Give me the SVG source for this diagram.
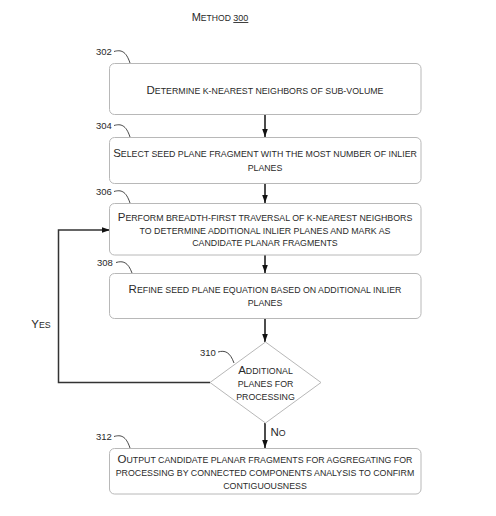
<svg xmlns="http://www.w3.org/2000/svg" width="496" height="516" viewBox="0 0 496 516">
<style>
.box{fill:#fff;stroke:#b8b8b8;stroke-width:1}
.t{font-family:"Liberation Sans",Arial,sans-serif;font-size:8.8px;fill:#2a2a2a;text-anchor:middle}
.b{font-size:11.5px}
.n{font-family:"Liberation Sans",Arial,sans-serif;font-size:9.5px;fill:#2a2a2a}
.lead{fill:none;stroke:#333;stroke-width:0.9}
.c{fill:none;stroke:#111;stroke-width:1.5}
.loop{fill:none;stroke:#333;stroke-width:1.5}
</style>
<defs>
<marker id="ah2" viewBox="0 0 10 7" refX="10" refY="3.5" markerWidth="8" markerHeight="5.6" orient="auto" markerUnits="userSpaceOnUse">
<path d="M0,0 L10,3.5 L0,7 z" fill="#111"/>
</marker>
</defs>
<rect width="496" height="516" fill="#fff"/>
<text class="t" x="220" y="21" style="font-size:8.6px"><tspan style="font-size:11px">M</tspan>ETHOD <tspan style="font-size:9px" text-decoration="underline">300</tspan></text>

<g id="connectors">
<path class="c" d="M265,115 V137" marker-end="url(#ah2)"/>
<path class="c" d="M265,183 V203" marker-end="url(#ah2)"/>
<path class="c" d="M265,255 V273" marker-end="url(#ah2)"/>
<path class="c" d="M265,318 V342" marker-end="url(#ah2)"/>
<path class="c" d="M265,423 V448" marker-end="url(#ah2)"/>
<path class="loop" d="M210,382.5 H58.5 V230 H110" marker-end="url(#ah2)"/>
<text class="t" x="41" y="328"><tspan class="b">Y</tspan>ES</text>
<text class="t" x="278" y="436"><tspan class="b">N</tspan>O</text>
</g>

<g id="n302">
<rect class="box" x="109.5" y="63.5" width="311.5" height="51" rx="5"/>
<text class="t" x="265" y="94"><tspan class="b">D</tspan>ETERMINE K-NEAREST NEIGHBORS OF SUB-VOLUME</text>
<text class="n" x="96" y="55">302</text>
<path class="lead" d="M114,51.5 C121,49.5 126,51 130,63"/>
</g>

<g id="n304">
<rect class="box" x="109.5" y="137.5" width="311.5" height="46" rx="5"/>
<text class="t" x="265" y="157"><tspan class="b">S</tspan>ELECT SEED PLANE FRAGMENT WITH THE MOST NUMBER OF INLIER</text>
<text class="t" x="265" y="170.5">PLANES</text>
<text class="n" x="96" y="129">304</text>
<path class="lead" d="M114,125.5 C121,123.5 126,125 130,137"/>
</g>

<g id="n306">
<rect class="box" x="109.5" y="203.5" width="311.5" height="51.5" rx="5"/>
<text class="t" x="265" y="221"><tspan class="b">P</tspan>ERFORM BREADTH-FIRST TRAVERSAL OF K-NEAREST NEIGHBORS</text>
<text class="t" x="265" y="233.5">TO DETERMINE ADDITIONAL INLIER PLANES AND MARK AS</text>
<text class="t" x="265" y="246">CANDIDATE PLANAR FRAGMENTS</text>
<text class="n" x="96" y="195">306</text>
<path class="lead" d="M114,191.5 C121,189.5 126,191 130,203"/>
</g>

<g id="n308">
<rect class="box" x="109.5" y="273.5" width="311.5" height="45" rx="5"/>
<text class="t" x="265" y="293"><tspan class="b">R</tspan>EFINE SEED PLANE EQUATION BASED ON ADDITIONAL INLIER</text>
<text class="t" x="265" y="306">PLANES</text>
<text class="n" x="97" y="266">308</text>
<path class="lead" d="M116,262.5 C123,260.5 128,262 132,273"/>
</g>

<g id="n310">
<path d="M265.5,342 L321,382.5 L265.5,423 L210,382.5 Z" fill="#fff" stroke="#b8b8b8" stroke-width="1"/>
<text class="t" x="265.5" y="374"><tspan class="b">A</tspan>DDITIONAL</text>
<text class="t" x="265.5" y="387">PLANES FOR</text>
<text class="t" x="265.5" y="399.5">PROCESSING</text>
<text class="n" x="200" y="356">310</text>
<path class="lead" d="M218,352 C225,350 230,352 234,363"/>
</g>

<g id="n312">
<rect class="box" x="109.5" y="448.5" width="311.5" height="45.5" rx="5"/>
<text class="t" x="265" y="463"><tspan class="b">O</tspan>UTPUT CANDIDATE PLANAR FRAGMENTS FOR AGGREGATING FOR</text>
<text class="t" x="265" y="476">PROCESSING BY CONNECTED COMPONENTS ANALYSIS TO CONFIRM</text>
<text class="t" x="265" y="489">CONTIGUOUSNESS</text>
<text class="n" x="96" y="440">312</text>
<path class="lead" d="M114,436.5 C121,434.5 126,436 130,448"/>
</g>
</svg>
